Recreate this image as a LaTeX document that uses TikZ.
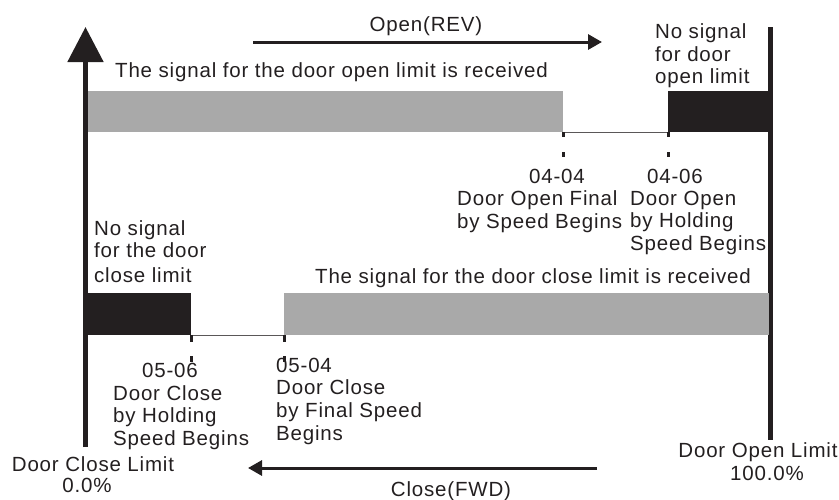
\documentclass[tikz,border=0pt]{standalone}
\usepackage{fontspec}
\setmainfont[LetterSpace=4]{Liberation Sans}
\usetikzlibrary{arrows.meta}
\definecolor{ink}{HTML}{231F20}
\definecolor{barg}{HTML}{A9A9A9}
\begin{document}
\begin{tikzpicture}[x=1pt,y=-1pt,
  lbl/.style={inner sep=0pt, anchor=base west, font=\fontsize{20.5}{22}\selectfont, text=ink},
  clbl/.style={lbl, anchor=base},
  graybar/.style={fill=barg, draw=none, inner sep=0pt, anchor=north west},
  blackbar/.style={fill=ink, draw=none, inner sep=0pt, anchor=north west},
  axis/.style={draw=ink, line width=5pt},
  dirarrow/.style={draw=ink, line width=3pt, -{Triangle[length=14pt,width=15pt]}},
  tickmark/.style={draw=ink, line width=3pt},
  gapline/.style={draw=ink!75, line width=1pt}]
\useasboundingbox (0,0) rectangle (839,499);

% axes
\coordinate (lbot) at (85.5,447);
\coordinate (ltop) at (85.5,27);
\coordinate (rtop) at (770.5,27);
\coordinate (rbot) at (770.5,440);
\draw[axis, -{Triangle[length=35pt,width=35pt]}] (lbot) -- (ltop);
\draw[axis] (rtop) -- (rbot);

% top bars
\node[graybar, minimum width=475, minimum height=41] (gbar1) at (88,91) {};
\node[blackbar, minimum width=102, minimum height=41] (bbar1) at (668,91) {};
\draw[gapline] (gbar1.south east) -- (bbar1.south west);
\draw[tickmark] (gbar1.south east) -- ++(0,5) ++(0,15) -- ++(0,5);
\draw[tickmark] (bbar1.south west) -- ++(0,5) ++(0,15) -- ++(0,5);

% bottom bars
\node[blackbar, minimum width=103, minimum height=42] (bbar2) at (88,293) {};
\node[graybar, minimum width=485, minimum height=42] (gbar2) at (284,293) {};
\draw[gapline] (bbar2.south east) -- (gbar2.south west);
\draw[tickmark] (bbar2.south east) -- ++(0,7) ++(0,14) -- ++(0,6);
\draw[tickmark] (gbar2.south west) -- ++(0,7) ++(0,14) -- ++(0,6);

% direction arrows
\coordinate (os) at (253,42);
\coordinate (oe) at (602,42);
\draw[dirarrow] (os) -- (oe);
\coordinate (cs) at (597,468);
\coordinate (ce) at (248,468);
\draw[dirarrow] (cs) -- (ce);

% texts top
\node[clbl] (open) at (426,31) {Open(REV)};
\node[lbl] (sigopen) at (115,77) {The signal for the door open limit is received};
\node[lbl] (nso1) at (655,38) {No signal};
\node[lbl] (nso2) at (655,61) {for door};
\node[lbl] (nso3) at (655,83) {open limit};
\node[clbl] (p0404) at (557,183) {04-04};
\node[lbl] (f1) at (457,205) {Door Open Final};
\node[lbl] (f2) at (457,228) {by Speed Begins};
\node[clbl] (p0406) at (675,183) {04-06};
\node[lbl] (h1) at (630,205) {Door Open};
\node[lbl] (h2) at (630,227) {by Holding};
\node[lbl] (h3) at (630,250) {Speed Begins};

% texts bottom
\node[lbl] (nsc1) at (94,235) {No signal};
\node[lbl] (nsc2) at (94,257) {for the door};
\node[lbl] (nsc3) at (94,282) {close limit};
\node[lbl] (sigclose) at (315,283) {The signal for the door close limit is received};
\node[clbl] (p0506) at (170,377) {05-06};
\node[lbl] (ch1) at (113,400) {Door Close};
\node[lbl] (ch2) at (113,422) {by Holding};
\node[lbl] (ch3) at (113,445) {Speed Begins};
\node[lbl] (p0504) at (276,372) {05-04};
\node[lbl] (cf1) at (276,394) {Door Close};
\node[lbl] (cf2) at (276,417) {by Final Speed};
\node[lbl] (cf3) at (276,440) {Begins};
\node[clbl] (dcl) at (93,471) {Door Close Limit};
\node[clbl] (dclp) at (87,492) {0.0\%};
\node[clbl] (close) at (451,496) {Close(FWD)};
\node[clbl] (dol) at (758,457) {Door Open Limit};
\node[clbl] (dolp) at (767,480) {100.0\%};
\end{tikzpicture}
\end{document}
